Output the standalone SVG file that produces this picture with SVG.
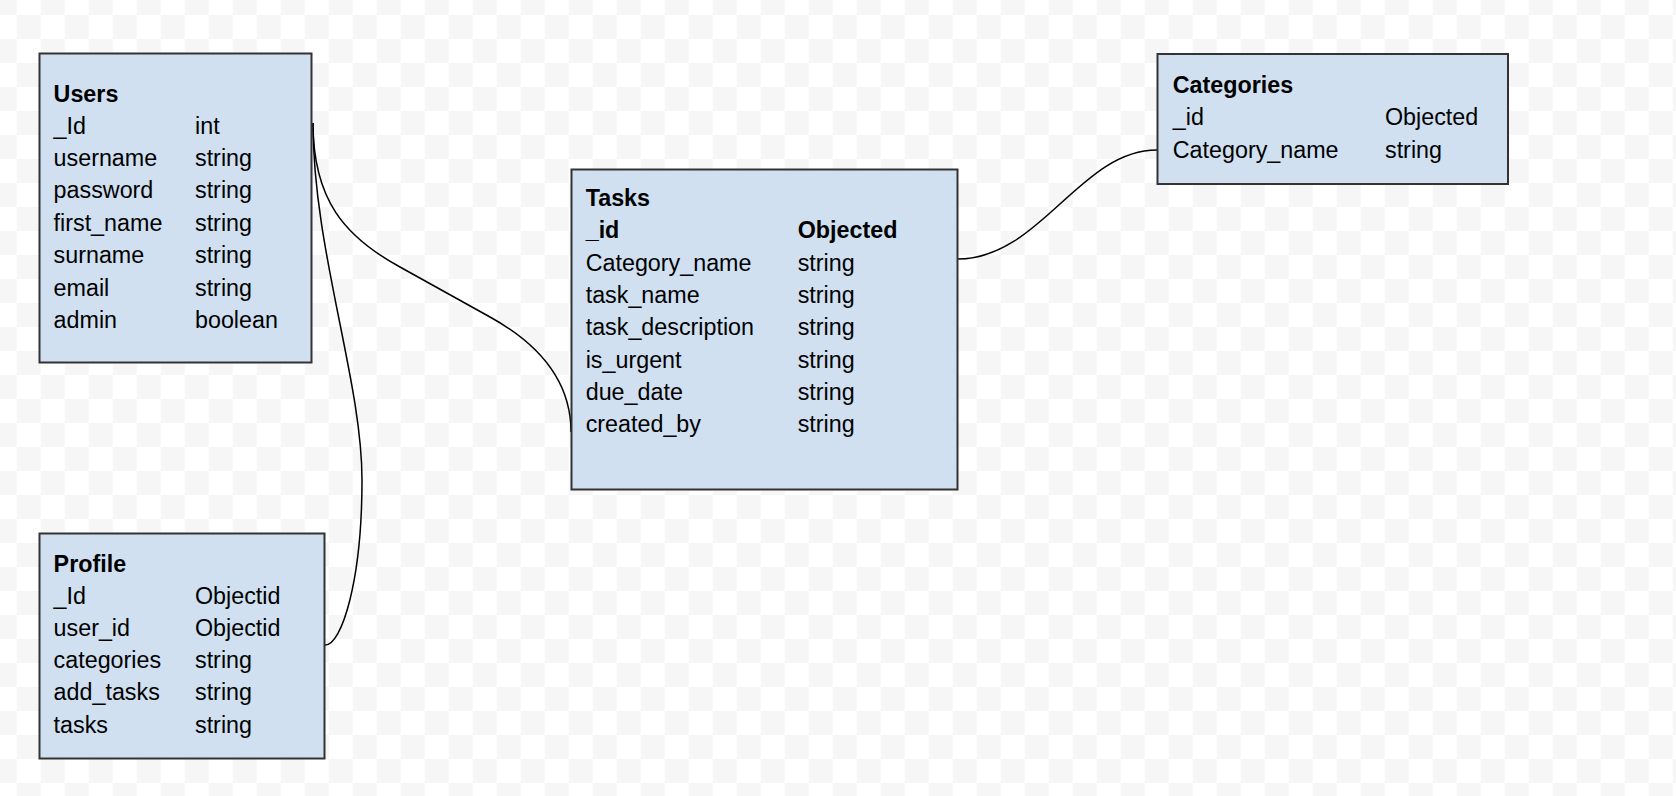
<svg xmlns="http://www.w3.org/2000/svg" width="1676" height="796" viewBox="0 0 1676 796">
  <defs>
    <pattern id="checker" patternUnits="userSpaceOnUse" x="-7.3" y="-9" width="48" height="48">
      <rect x="0" y="0" width="48" height="48" fill="#ffffff"/>
      <rect x="0" y="0" width="24" height="24" fill="#f6f6f6"/>
      <rect x="24" y="24" width="24" height="24" fill="#f6f6f6"/>
    </pattern>
  </defs>
  <style>
    .box { fill: #d0e0f1; stroke: #333333; stroke-width: 2; }
    .t { font-family: "Liberation Sans", Arial, sans-serif; font-size: 23.3px; fill: #000000; }
    .b { font-weight: bold; }
    .conn { fill: none; stroke: #000000; stroke-width: 1.5; }
  </style>
  <rect x="0" y="0" width="1676" height="796" fill="url(#checker)"/>

  <g id="connectors">
    <path class="conn" d="M313,123 C313,200 345,237 400,267 L490,317 C537,343 571,380 571,432"/>
    <path class="conn" d="M313,123 C313,250 362,380 362,480 C362,580 342,645 325,645"/>
    <path class="conn" d="M958,259 C1040,259 1080,150 1157,150"/>
  </g>

  <g id="users">
    <rect class="box" x="39.5" y="53.5" width="272" height="309"/>
    <text class="t b" x="53.6" y="101.5">Users</text>
    <text class="t" x="53.6" y="133.5">_Id</text><text class="t" x="195" y="133.5">int</text>
    <text class="t" x="53.6" y="165.9">username</text><text class="t" x="195" y="165.9">string</text>
    <text class="t" x="53.6" y="198.3">password</text><text class="t" x="195" y="198.3">string</text>
    <text class="t" x="53.6" y="230.7">first_name</text><text class="t" x="195" y="230.7">string</text>
    <text class="t" x="53.6" y="263.1">surname</text><text class="t" x="195" y="263.1">string</text>
    <text class="t" x="53.6" y="295.5">email</text><text class="t" x="195" y="295.5">string</text>
    <text class="t" x="53.6" y="327.9">admin</text><text class="t" x="195" y="327.9">boolean</text>
  </g>

  <g id="profile">
    <rect class="box" x="39.5" y="533.5" width="285" height="225"/>
    <text class="t b" x="53.6" y="571.5">Profile</text>
    <text class="t" x="53.6" y="603.5">_Id</text><text class="t" x="195" y="603.5">Objectid</text>
    <text class="t" x="53.6" y="635.8">user_id</text><text class="t" x="195" y="635.8">Objectid</text>
    <text class="t" x="53.6" y="668.1">categories</text><text class="t" x="195" y="668.1">string</text>
    <text class="t" x="53.6" y="700.4">add_tasks</text><text class="t" x="195" y="700.4">string</text>
    <text class="t" x="53.6" y="732.7">tasks</text><text class="t" x="195" y="732.7">string</text>
  </g>

  <g id="tasks">
    <rect class="box" x="571.5" y="169.5" width="386" height="320"/>
    <text class="t b" x="585.7" y="206">Tasks</text>
    <text class="t b" x="585.7" y="238.3">_id</text><text class="t b" x="797.7" y="238.3">Objected</text>
    <text class="t" x="585.7" y="270.7">Category_name</text><text class="t" x="797.7" y="270.7">string</text>
    <text class="t" x="585.7" y="303">task_name</text><text class="t" x="797.7" y="303">string</text>
    <text class="t" x="585.7" y="335.3">task_description</text><text class="t" x="797.7" y="335.3">string</text>
    <text class="t" x="585.7" y="367.6">is_urgent</text><text class="t" x="797.7" y="367.6">string</text>
    <text class="t" x="585.7" y="400">due_date</text><text class="t" x="797.7" y="400">string</text>
    <text class="t" x="585.7" y="432.3">created_by</text><text class="t" x="797.7" y="432.3">string</text>
  </g>

  <g id="categories">
    <rect class="box" x="1157.5" y="54" width="350.5" height="130"/>
    <text class="t b" x="1172.8" y="92.7">Categories</text>
    <text class="t" x="1172.8" y="125.3">_id</text><text class="t" x="1385" y="125.3">Objected</text>
    <text class="t" x="1172.8" y="157.7">Category_name</text><text class="t" x="1385" y="157.7">string</text>
  </g>
</svg>
